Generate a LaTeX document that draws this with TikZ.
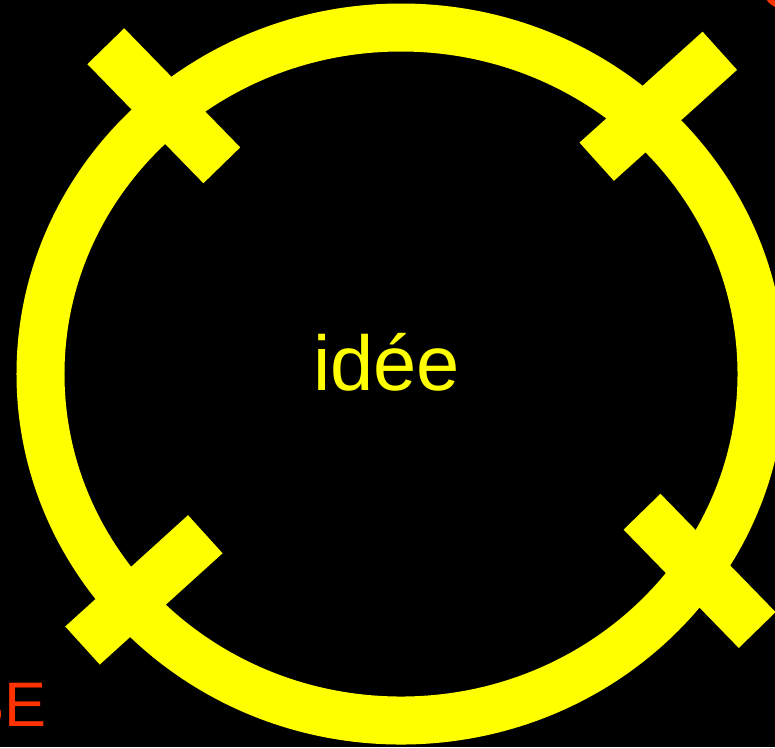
\documentclass[tikz,border=0pt]{standalone}
\usepackage{fontspec}
\setmainfont{Liberation Sans}
\usepackage{tikz}
\usetikzlibrary{positioning}
\definecolor{markyellow}{HTML}{FFFF00}
\definecolor{labelred}{HTML}{FF3300}

\begin{document}
\begin{tikzpicture}[
    ringline/.style={draw=markyellow, line width=0.48cm},
    tickbar/.style={draw=markyellow, line width=0.514cm, line cap=butt},
    redlabel/.style={text=labelred, inner sep=0pt, font=\fontsize{17.9pt}{20pt}\selectfont}
]
    % --- Frame (black background, cropped view) ---
    \fill[black] (-4.01,-3.73) rectangle (3.74,3.74);
    \useasboundingbox (-4.01,-3.73) rectangle (3.74,3.74);
    \clip (-4.01,-3.73) rectangle (3.74,3.74);

    % --- Ring ---
    \draw[ringline] (0,0) ellipse [x radius=3.605, y radius=3.465];

    % --- Cross bars over the ring ---
    \draw[tickbar] (-2.952,3.278) -- (-1.792,2.087);
    \draw[tickbar] (3.188,3.232) -- (1.957,2.123);
    \draw[tickbar] (-3.185,-2.715) -- (-1.957,-1.602);
    \draw[tickbar] (3.562,-2.560) -- (2.410,-1.377);

    % --- Labels ---
    \node[text=markyellow, inner sep=0pt, anchor=base, font=\fontsize{22.1pt}{26pt}\selectfont] (idea) at (-0.145,-0.16) {idée};
    \node[redlabel, anchor=base east] (cornerSE) at (-3.54,-3.527) {SE};
    \node[redlabel, anchor=base west] (cornerC) at (3.59,3.66) {C};
\end{tikzpicture}
\end{document}
